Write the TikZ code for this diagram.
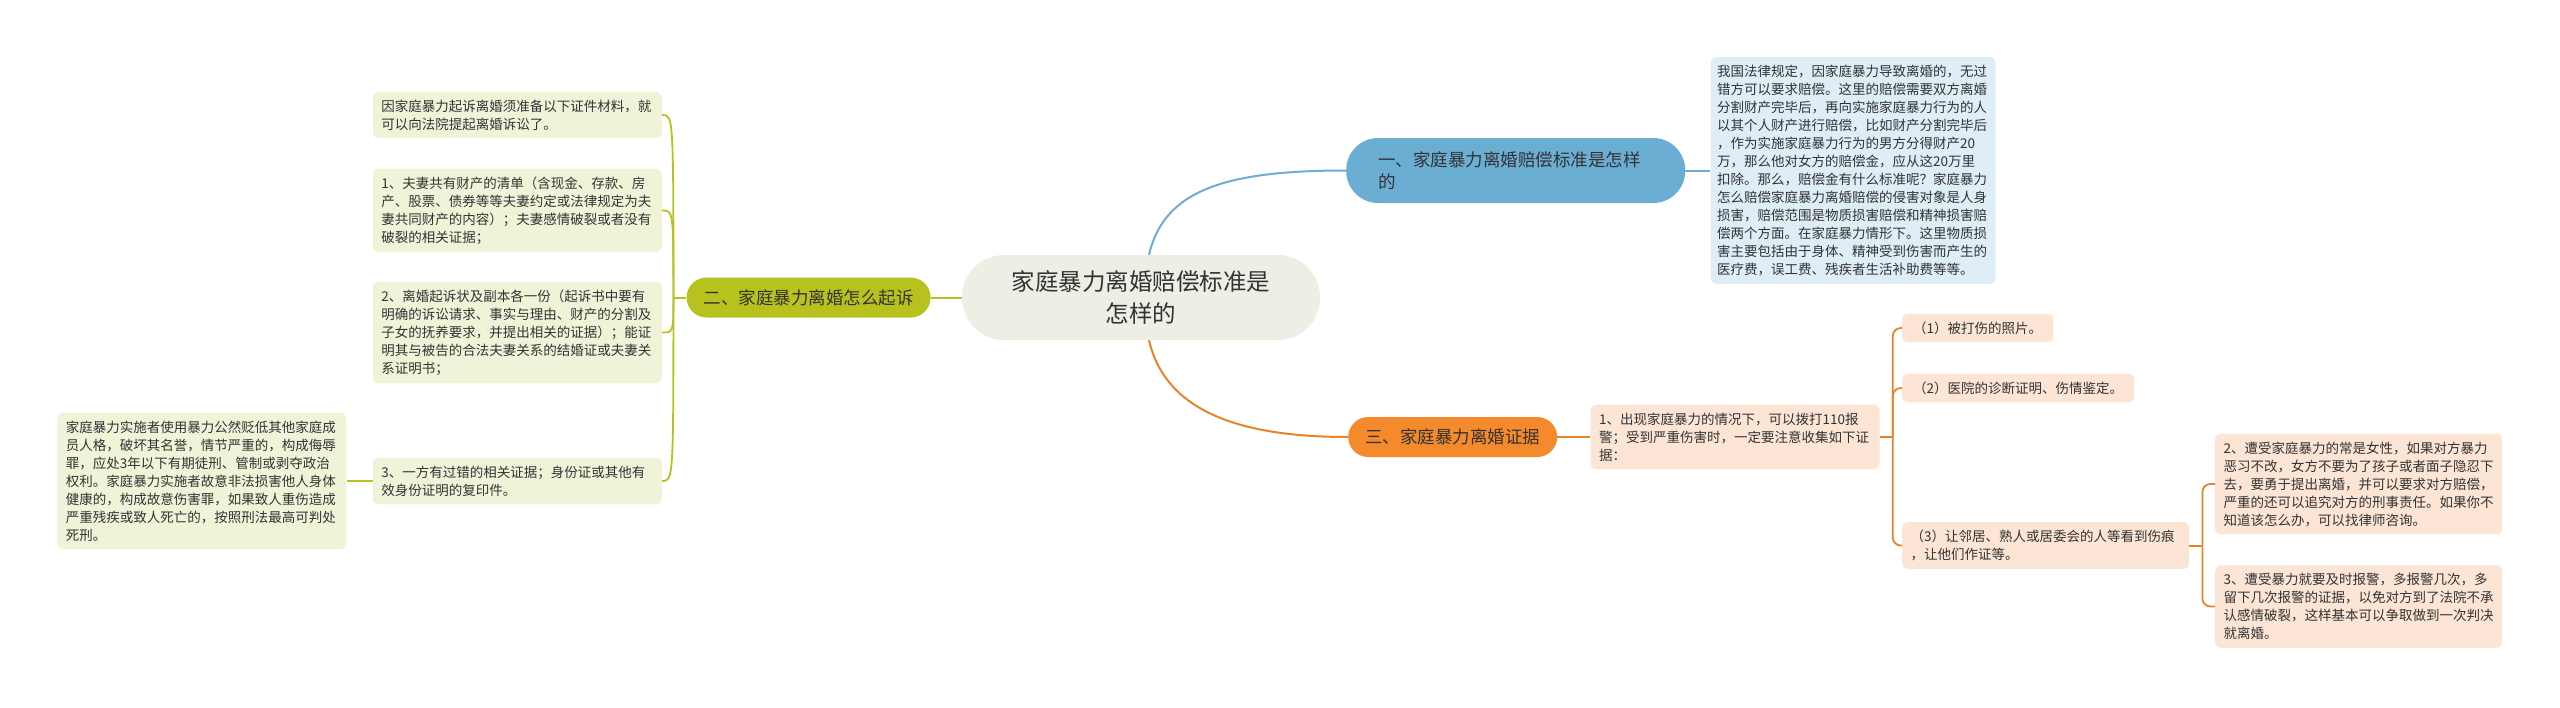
\documentclass[tikz,border=0pt]{standalone}
\usepackage{fontspec}
\setmainfont{Noto Sans CJK SC}
\usetikzlibrary{positioning}
\definecolor{txtc}{HTML}{333333}
\definecolor{rootbg}{HTML}{EEEEE5}
\definecolor{bluehd}{HTML}{6BAED3}
\definecolor{bluelf}{HTML}{DEEDF6}
\definecolor{greenhd}{HTML}{B7C21E}
\definecolor{greenlf}{HTML}{F0F3D8}
\definecolor{orangehd}{HTML}{F48A2B}
\definecolor{orangelf}{HTML}{FCE5D5}

\begin{document}
\begin{tikzpicture}[x=1pt,y=-1pt,node distance=26pt,
    hd/.style={rounded corners=20pt,minimum height=40pt,inner ysep=0pt,inner xsep=17pt,
      text=txtc,font=\fontsize{17.5}{22}\selectfont},
    lf/.style={rounded corners=6pt,align=left,text width=272pt,inner xsep=8.5pt,inner ysep=8pt,
      text=txtc,font=\fontsize{13.5}{18}\selectfont},
    sh/.style={rounded corners=6pt,inner xsep=11pt,inner ysep=8pt,
      text=txtc,font=\fontsize{13.5}{18}\selectfont},
    bl/.style={line width=2pt,draw=bluehd},
    gl/.style={line width=2pt,draw=greenhd},
    ol/.style={line width=2pt,draw=orangehd!95!black}]
  \useasboundingbox (0,0) rectangle (2560,707);

  \node[fill=rootbg,rounded corners=42pt,minimum height=85pt,text width=262pt,inner xsep=48pt,
    align=center,text=txtc,font=\fontsize{23.5}{32}\selectfont] (root) at (1141,297.5)
    {家庭暴力离婚赔偿标准是\\怎样的};

  % blue branch
  \node[hd,fill=bluehd,rounded corners=32pt,minimum height=65pt,inner ysep=4pt,inner xsep=32pt,
    text width=275pt,align=left,anchor=west] (b1) at (1346,170.5)
    {一、家庭暴力离婚赔偿标准是怎样\\的};
  \node[lf,fill=bluelf,text width=272pt,inner xsep=6.5pt,right=25pt of b1] (b2)
    {我国法律规定，因家庭暴力导致离婚的，无过\\错方可以要求赔偿。这里的赔偿需要双方离婚\\
     分割财产完毕后，再向实施家庭暴力行为的人\\以其个人财产进行赔偿，比如财产分割完毕后\\
     ，作为实施家庭暴力行为的男方分得财产20\\万，那么他对女方的赔偿金，应从这20万里\\
     扣除。那么，赔偿金有什么标准呢？家庭暴力\\怎么赔偿家庭暴力离婚赔偿的侵害对象是人身\\
     损害，赔偿范围是物质损害赔偿和精神损害赔\\偿两个方面。在家庭暴力情形下。这里物质损\\
     害主要包括由于身体、精神受到伤害而产生的\\医疗费，误工费、残疾者生活补助费等等。};

  % green branch
  \node[hd,fill=greenhd,left=31pt of root] (g1) {二、家庭暴力离婚怎么起诉};
  \node[lf,fill=greenlf,anchor=east] (gl1) at (662,115)
    {因家庭暴力起诉离婚须准备以下证件材料，就\\可以向法院提起离婚诉讼了。};
  \node[lf,fill=greenlf,anchor=east] (gl2) at (662,210.5)
    {1、夫妻共有财产的清单（含现金、存款、房\\产、股票、债券等等夫妻约定或法律规定为夫\\
     妻共同财产的内容）；夫妻感情破裂或者没有\\破裂的相关证据；};
  \node[lf,fill=greenlf,anchor=east] (gl3) at (662,332.5)
    {2、离婚起诉状及副本各一份（起诉书中要有\\明确的诉讼请求、事实与理由、财产的分割及\\
     子女的抚养要求，并提出相关的证据）；能证\\明其与被告的合法夫妻关系的结婚证或夫妻关\\
     系证明书；};
  \node[lf,fill=greenlf,anchor=east] (gl4) at (662,481)
    {3、一方有过错的相关证据；身份证或其他有\\效身份证明的复印件。};
  \node[lf,fill=greenlf,left=26pt of gl4] (gl5)
    {家庭暴力实施者使用暴力公然贬低其他家庭成\\员人格，破坏其名誉，情节严重的，构成侮辱\\
     罪，应处3年以下有期徒刑、管制或剥夺政治\\权利。家庭暴力实施者故意非法损害他人身体\\
     健康的，构成故意伤害罪，如果致人重伤造成\\严重残疾或致人死亡的，按照刑法最高可判处\\
     死刑。};

  % orange branch
  \node[hd,fill=orangehd,anchor=west] (o1) at (1348,437) {三、家庭暴力离婚证据};
  \node[lf,fill=orangelf,right=33pt of o1] (o2)
    {1、出现家庭暴力的情况下，可以拨打110报\\警；受到严重伤害时，一定要注意收集如下证\\据：};
  \node[sh,fill=orangelf,anchor=west] (p1) at (1902,328) {（1）被打伤的照片。};
  \node[sh,fill=orangelf,anchor=west] (p2) at (1902,388) {（2）医院的诊断证明、伤情鉴定。};
  \node[lf,fill=orangelf,text width=270pt,anchor=west] (p3) at (1902,545.5)
    {（3）让邻居、熟人或居委会的人等看到伤痕\\，让他们作证等。};
  \node[lf,fill=orangelf,text width=270pt,anchor=west] (q1) at (2215,484)
    {2、遭受家庭暴力的常是女性，如果对方暴力\\恶习不改，女方不要为了孩子或者面子隐忍下\\
     去，要勇于提出离婚，并可以要求对方赔偿，\\严重的还可以追究对方的刑事责任。如果你不\\
     知道该怎么办，可以找律师咨询。};
  \node[lf,fill=orangelf,text width=270pt,anchor=west] (q2) at (2215,606.5)
    {3、遭受暴力就要及时报警，多报警几次，多\\留下几次报警的证据，以免对方到了法院不承\\
     认感情破裂，这样基本可以争取做到一次判决\\就离婚。};

  \draw[bl] ([xshift=8pt]root.north) .. controls +(15,-65) and +(-120,0) .. (b1.west);
  \draw[bl] (b1.east) -- (b2.west);
  \draw[gl] (root.west) -- (g1.east);
  \draw[gl] (gl4.west) -- (gl5.east);
  \draw[gl] (g1.west) -- ++(-13,0) coordinate (gj);
  \foreach \n in {gl1,gl2,gl3,gl4}
    \draw[gl,line width=1.8pt] (gj) .. controls (gj |- \n.east) .. (\n.east);
  \draw[ol] ([xshift=8pt]root.south) .. controls +(15,65) and +(-120,0) .. (o1.west);
  \draw[ol] (o1.east) -- (o2.west);
  \draw[ol] (o2.east) -- ++(13,0) coordinate (oj);
  \foreach \n in {p1,p2,p3}
    \draw[ol,line width=1.8pt,rounded corners=8pt] (oj) |- (\n.west);
  \draw[ol] (p3.east) -- ++(13,0) coordinate (pj);
  \foreach \n in {q1,q2}
    \draw[ol,line width=1.8pt,rounded corners=8pt] (pj) |- (\n.west);
\end{tikzpicture}
\end{document}
